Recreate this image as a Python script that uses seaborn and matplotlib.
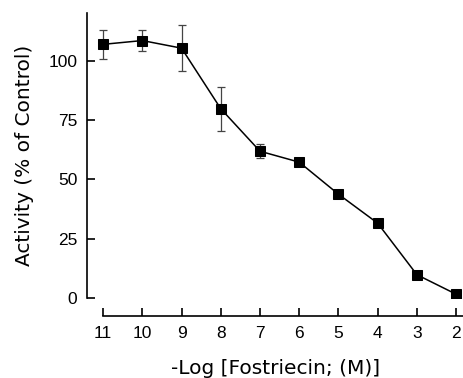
import numpy as np
import pandas as pd
import seaborn as sns
import matplotlib
matplotlib.use('Agg')
import matplotlib.pyplot as plt

# -log concentration of fostriecin
neg_log_conc = [11, 10, 9, 8, 7, 6, 5, 4, 3, 2]
# activity, % of control
activity = [106.8, 108.4, 105.2, 79.7, 61.8, 57.2, 43.7, 31.5, 9.8, 1.6]
# error (+/-)
activity_err = [6.0, 4.5, 9.6, 9.3, 3.0, 1.2, 0.0, 0.0, 0.0, 0.0]
y_ticks = [0, 25, 50, 75, 100]

df = pd.DataFrame({'x': neg_log_conc, 'y': activity, 'err': activity_err})

sns.set_theme(style='ticks')
plt.rcParams['font.family'] = ['Liberation Sans', 'DejaVu Sans']

fig = plt.figure(figsize=(4.64, 3.78), dpi=100)
ax = fig.add_axes([0.1875, 0.2116, 0.8125, 0.754])

# error bars first, then the line with square markers on top
ax.errorbar(df['x'], df['y'], yerr=df['err'], fmt='none', ecolor='#444444',
            elinewidth=0.9, capsize=3, capthick=0.9, zorder=2)
sns.lineplot(data=df, x='x', y='y', ax=ax, color='black', linewidth=1.1,
             marker='s', markersize=6.5, markeredgecolor='black', zorder=3)

ax.set_xlim(11.41, 1.8)
ax.set_ylim(0, 120)
ax.set_xticks(neg_log_conc)
ax.set_yticks(y_ticks)

sns.despine(ax=ax)
ax.spines['bottom'].set_position(('outward', 13))
ax.spines['bottom'].set_bounds(11, 1.8)
ax.spines['left'].set_bounds(0, 120)
for s in ['left', 'bottom']:
    ax.spines[s].set_linewidth(1.2)
    ax.spines[s].set_color('black')

ax.tick_params(axis='both', direction='in', length=6, width=1.2,
               labelsize=12.5, colors='black')
ax.tick_params(axis='x', pad=7)
ax.tick_params(axis='y', pad=7)

lab_font = dict(family=['DejaVu Sans'], fontsize=14.5, color='black')
ax.set_xlabel('-Log [Fostriecin; (M)]', labelpad=13, **lab_font)
ax.set_ylabel('Activity (% of Control)', labelpad=10, **lab_font)

fig.savefig('out.png', dpi=100)
